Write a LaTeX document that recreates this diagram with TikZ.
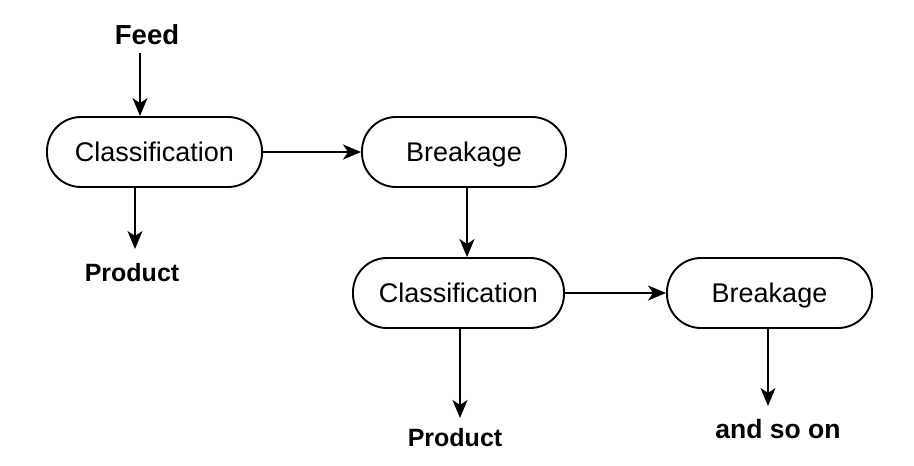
\documentclass[tikz,border=0pt]{standalone}
\usepackage{fontspec}
\setmainfont{Liberation Sans}
\usetikzlibrary{arrows.meta}
\begin{document}
\begin{tikzpicture}[x=1pt,y=-1pt,
  proc/.style={draw=black, line width=1.9pt, rounded corners=34pt, minimum height=70pt, inner sep=0pt,
    text height=19.3pt, text depth=0pt, font=\fontsize{27}{32}\selectfont},
  lbl/.style={inner sep=0pt, text depth=0pt},
  arr/.style={line width=1.9pt, -{Stealth[length=18pt,width=15pt,inset=5pt]}}]
\useasboundingbox (0,0) rectangle (914,466);
\node[proc, minimum width=215pt] (c1) at (154.5,152) {Classification};
\node[proc, minimum width=204pt] (b1) at (464,152) {Breakage};
\node[proc, minimum width=211pt] (c2) at (458.5,293) {Classification};
\node[proc, minimum width=205pt] (b2) at (769.5,293) {Breakage};
\node[lbl, text height=19.7pt, font=\bfseries\fontsize{27.5}{32}\selectfont] (feed) at (147,35) {Feed};
\node[lbl, text height=18pt, font=\bfseries\fontsize{25}{30}\selectfont] (p1) at (132,272) {Product};
\node[lbl, text height=18pt, font=\bfseries\fontsize{25}{30}\selectfont] (p2) at (455,437) {Product};
\node[lbl, text height=19pt, font=\bfseries\fontsize{26.5}{30}\selectfont] (more) at (778,429) {and so on};
\coordinate (t1) at (135,249);
\coordinate (t2) at (460,418);
\coordinate (t3) at (768,406);
\coordinate (f0) at (140,53);
\draw[arr] (f0) -- (f0 |- c1.north);
\draw[arr] (c1.east) -- (b1.west);
\draw[arr] (c1.south -| t1) -- (t1);
\draw[arr] (b1.south -| 467,0) -- (c2.north -| 467,0);
\draw[arr] (c2.east) -- (b2.west);
\draw[arr] (c2.south -| t2) -- (t2);
\draw[arr] (b2.south -| t3) -- (t3);
\end{tikzpicture}
\end{document}
